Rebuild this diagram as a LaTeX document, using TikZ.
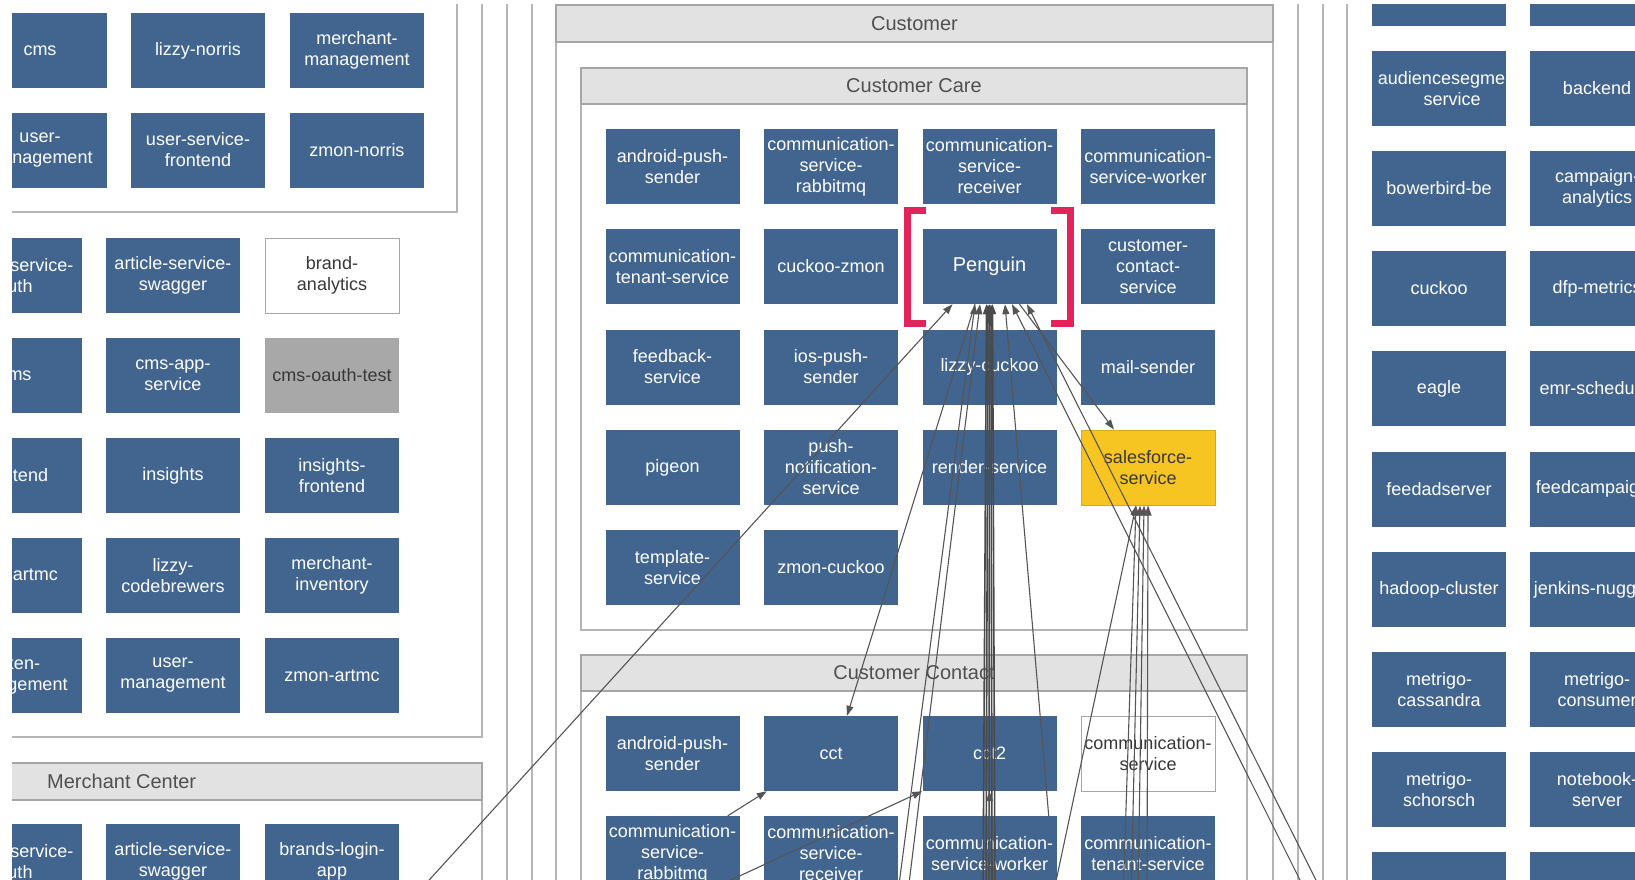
\documentclass[tikz,border=0pt]{standalone}
\usepackage{fontspec}
\setmainfont{Liberation Sans}
\usetikzlibrary{arrows.meta,calc}
\definecolor{boxblue}{HTML}{41658F}
\definecolor{grpline}{HTML}{B5B5B5}
\definecolor{hdrfill}{HTML}{E2E2E2}
\definecolor{hdrline}{HTML}{A6A6A6}
\definecolor{sfyellow}{HTML}{F6C522}
\definecolor{sfedge}{HTML}{D8A910}
\definecolor{penred}{HTML}{E3245A}
\definecolor{arrowgray}{HTML}{555555}
\definecolor{bundlegray}{HTML}{4A4A4A}
\definecolor{txtdark}{HTML}{383838}
\definecolor{hdrtext}{HTML}{505050}
\definecolor{oauthgray}{HTML}{A8A8A8}
\begin{document}
\begin{tikzpicture}[x=1pt,y=-1pt,
  svc/.style={fill=boxblue, draw=none, minimum width=134pt, minimum height=75pt,
    inner sep=0pt, text=white, align=center, font=\fontsize{18}{21}\selectfont},
  svctext/.style={inner sep=0pt, text=white, align=center, font=\fontsize{18}{21}\selectfont},
  svcwhite/.style={svc, fill=white, draw=hdrline, line width=1pt, text=txtdark},
  svcgray/.style={svc, fill=oauthgray, text=txtdark},
  svcyellow/.style={svc, fill=sfyellow, draw=sfedge, line width=1pt, text=txtdark},
  grp/.style={draw=grpline, line width=1.4pt},
  hdr/.style={draw=hdrline, fill=hdrfill, line width=1.4pt},
  hdrlabel/.style={text=hdrtext, font=\fontsize{20}{24}\selectfont, inner sep=0pt},
  conn/.style={draw=arrowgray, line width=1.1pt, -{Triangle[length=10pt,width=7pt]}},
  bundle/.style={conn, draw=bundlegray, line width=1.6pt},
  bracket/.style={draw=penred, line width=7pt, line cap=butt, line join=miter}
]
\useasboundingbox (0,0) rectangle (1635,879);
\fill[white] (0,0) rectangle (1635,879);
\clip (12,4) rectangle (1635,879);

% ---------------- group frames, left ----------------
\draw[grp] (457,-5) -- (457,212) -- (-10,212);
\draw[grp] (482,-5) -- (482,737) -- (-10,737);
\draw[grp] (-10,763) rectangle (482,920);
\draw[hdr] (-10,763) rectangle (482,800);
\node[hdrlabel, anchor=west] (lblMerchant) at (47,781) {Merchant Center};
\draw[grp] (507,-5) -- (507,920);
\draw[grp] (532,-5) -- (532,920);

% ---------------- group frames, centre ----------------
\draw[grp] (556,5) rectangle (1273,920);
\draw[hdr] (556,5) rectangle (1273,42);
\node[hdrlabel] (lblCustomer) at (914.5,23.5) {Customer};
\draw[grp] (581,68) rectangle (1247,630);
\draw[hdr] (581,68) rectangle (1247,104);
\node[hdrlabel] (lblCare) at (914,86) {Customer Care};
\draw[grp] (581,655) rectangle (1247,920);
\draw[hdr] (581,655) rectangle (1247,691);
\node[hdrlabel] (lblContact) at (914,673) {Customer Contact};

% ---------------- group frames, right ----------------
\draw[grp] (1298,-5) -- (1298,920);
\draw[grp] (1323,-5) -- (1323,920);
\draw[grp] (1347,-5) -- (1347,920);

% ---------------- left boxes ----------------
\node[svc] (cmsA) at (40,50.5) {cms};
\node[svc] (lizzyn) at (198,50.5) {lizzy-norris};
\node[svc] (merchmgmt) at (357,50.5) {merchant-\\management};
\node[svc] (usermgmtA) at (40,150) {user-\\management};
\node[svc] (usfront) at (198,150) {user-service-\\frontend};
\node[svc] (zmonn) at (357,150) {zmon-norris};

\node[svc] (asauthA) at (15,275.5) {article-service-\\auth};
\node[svc] (asswagA) at (173,275.5) {article-service-\\swagger};
\node[svcwhite] (brandan) at (332,275.5) {brand-\\analytics};
\node[svc] (cmsB) at (15,375.5) {cms};
\node[svc] (cmsapp) at (173,375.5) {cms-app-\\service};
\node[svcgray] (cmsoauth) at (332,375.5) {cms-oauth-test};
\node[svc] (frontendB) at (15,475.5) {frontend};
\node[svc] (insights) at (173,475.5) {insights};
\node[svc] (insfront) at (332,475.5) {insights-\\frontend};
\node[svc] (lizzyart) at (15,575.5) {lizzy-artmc};
\node[svc] (lizzycode) at (173,575.5) {lizzy-\\codebrewers};
\node[svc] (merchinv) at (332,575.5) {merchant-\\inventory};
\node[svc] (tokenmgmt) at (15,675.5) {token-\\management};
\node[svc] (usermgmtB) at (173,675.5) {user-\\management};
\node[svc] (zmonart) at (332,675.5) {zmon-artmc};

\node[svc] (asauthM) at (15,861.5) {article-service-\\auth};
\node[svc] (asswagM) at (173,861.5) {article-service-\\swagger};
\node[svc] (brandslogin) at (332,861.5) {brands-login-\\app};

% ---------------- Customer Care ----------------
\node[svc] (andr1) at (672.5,166.5) {android-push-\\sender};
\node[svc] (crabbit1) at (831,166.5) {communication-\\service-\\rabbitmq};
\node[svc] (crecv1) at (989.5,166.5) {communication-\\service-\\receiver};
\node[svc] (cworker1) at (1148,166.5) {communication-\\service-worker};
\node[svc] (ctenant1) at (672.5,266.5) {communication-\\tenant-service};
\node[svc] (cuckzmon) at (831,266.5) {cuckoo-zmon};
\node[svc, font=\fontsize{20}{24}\selectfont] (penguin) at (989.5,266.5) {Penguin};
\node[svc] (custcontact) at (1148,266.5) {customer-\\contact-\\service};
\node[svc] (feedback) at (672.5,367) {feedback-\\service};
\node[svc] (iospush) at (831,367) {ios-push-\\sender};
\node[svc] (lizzycuckoo) at (989.5,367) {lizzy-cuckoo};
\node[svc] (mailsender) at (1148,367) {mail-sender};
\node[svc] (pigeon) at (672.5,467.5) {pigeon};
\node[svc] (pushnotif) at (831,467.5) {push-\\notification-\\service};
\node[svc] (render) at (989.5,467.5) {render-service};
\node[svcyellow] (sales) at (1148,467.5) {salesforce-\\service};
\node[svc] (template) at (672.5,567.5) {template-\\service};
\node[svc] (zmoncuckoo) at (831,567.5) {zmon-cuckoo};

% ---------------- Customer Contact ----------------
\node[svc] (andr2) at (672.5,753.5) {android-push-\\sender};
\node[svc] (cct) at (831,753.5) {cct};
\node[svc] (cct2) at (989.5,753.5) {cct2};
\node[svcwhite] (commsvc) at (1148,753.5) {communication-\\service};
\node[svc] (crabbit2) at (672.5,853.5) {communication-\\service-\\rabbitmq};
\node[svc] (crecv2) at (831,853.5) {communication-\\service-\\receiver};
\node[svc] (cworker2) at (989.5,853.5) {communication-\\service-worker};
\node[svc] (ctenant2) at (1148,853.5) {communication-\\tenant-service};

% ---------------- right column ----------------
\node[svc] (rtop1) at (1439,-11.5) {};
\node[svc] (rtop2) at (1597,-11.5) {};
\node[svc] (audseg) at (1439,88.5) {};
\begin{scope}
  \clip (audseg.south west) rectangle (audseg.north east);
  \node[svctext] (audsegtext) at (1452,88.5) {audiencesegment-\\service};
\end{scope}
\node[svc] (backend) at (1597,88.5) {backend};
\node[svc] (bowerbird) at (1439,188.5) {bowerbird-be};
\node[svc] (campaign) at (1597,188.5) {campaign-\\analytics};
\node[svc] (cuckoo) at (1439,288.5) {cuckoo};
\node[svc] (dfp) at (1597,288.5) {dfp-metrics};
\node[svc] (eagle) at (1439,388.5) {eagle};
\node[svc] (emr) at (1597,388.5) {emr-scheduler};
\node[svc] (feedad) at (1439,489) {feedadserver};
\node[svc] (feedcamp) at (1597,489) {feedcampaigns};
\node[svc] (hadoop) at (1439,589.5) {hadoop-cluster};
\node[svc] (jenkins) at (1597,589.5) {jenkins-nuggets};
\node[svc] (metcass) at (1439,689.5) {metrigo-\\cassandra};
\node[svc] (metcons) at (1597,689.5) {metrigo-\\consumer};
\node[svc] (metschor) at (1439,789.5) {metrigo-\\schorsch};
\node[svc] (notebook) at (1597,789.5) {notebook-\\server};
\node[svc] (rbot1) at (1439,889.5) {};
\node[svc] (rbot2) at (1597,889.5) {};

% ---------------- free ends of connectors ----------------
\coordinate (srcL1) at (411,900);
\coordinate (srcL2) at (897,900);
\coordinate (srcL3) at (907,900);
\coordinate (srcB1) at (983,900);
\coordinate (srcB2) at (986,900);
\coordinate (srcB3) at (989,900);
\coordinate (srcB4) at (992,900);
\coordinate (srcB5) at (995,900);
\coordinate (srcB6) at (990,900);
\coordinate (srcD1) at (1310,900);
\coordinate (srcD2) at (1326,900);
\coordinate (srcH) at (690,899);
\coordinate (srcS1) at (1123,900);
\coordinate (srcS2) at (1131,900);
\coordinate (srcS3) at (1138,900);
\coordinate (srcS4) at (1147,900);
\coordinate (srcS5) at (1052,900);

% ---------------- connectors ----------------
\draw[conn] (srcL1) -- ([xshift=-37pt]penguin.south);
\draw[conn] (srcL2) -- ([xshift=-14.5pt]penguin.south);
\draw[conn] (srcL3) -- ([xshift=-9.5pt]penguin.south);
\draw[bundle] (srcB1) -- ([xshift=-3pt]penguin.south);
\draw[bundle] (srcB2) -- ([xshift=-1.5pt]penguin.south);
\draw[bundle] (srcB3) -- ([xshift=0pt]penguin.south);
\draw[bundle] (srcB4) -- ([xshift=1.5pt]penguin.south);
\draw[bundle] (srcB5) -- ([xshift=3pt]penguin.south);
\draw[conn] (srcB6) -- (cct2.south);
\draw[conn] ([xshift=-8pt]cworker2.north east) -- ([xshift=15.5pt]penguin.south);
\draw[conn] (srcD1) -- ([xshift=22.5pt]penguin.south);
\draw[conn] (srcD2) -- ([xshift=37.5pt]penguin.south);
\draw[conn] ([xshift=30pt]penguin.south) -- ([xshift=-34pt]sales.north);
\draw[conn] ([xshift=-14.5pt]penguin.south) -- ([xshift=16pt]cct.north);
\draw[conn] ([xshift=-12pt]crabbit2.north east) -- ([xshift=3pt]cct.south west);
\draw[conn] (srcH) -- (cct2.south west);
\draw[conn] (srcS1) -- ([xshift=-12pt]sales.south);
\draw[conn] (srcS2) -- ([xshift=-8pt]sales.south);
\draw[conn] (srcS3) -- ([xshift=-4pt]sales.south);
\draw[conn] (srcS4) -- (sales.south);
\draw[conn] (srcS5) -- ([xshift=-12pt]sales.south);

% ---------------- Penguin highlight bracket ----------------
\draw[bracket] (926,210.5) -- (907.5,210.5) -- (907.5,323.5) -- (926,323.5);
\draw[bracket] (1051,210.5) -- (1070.5,210.5) -- (1070.5,323.5) -- (1051,323.5);
\end{tikzpicture}
\end{document}
